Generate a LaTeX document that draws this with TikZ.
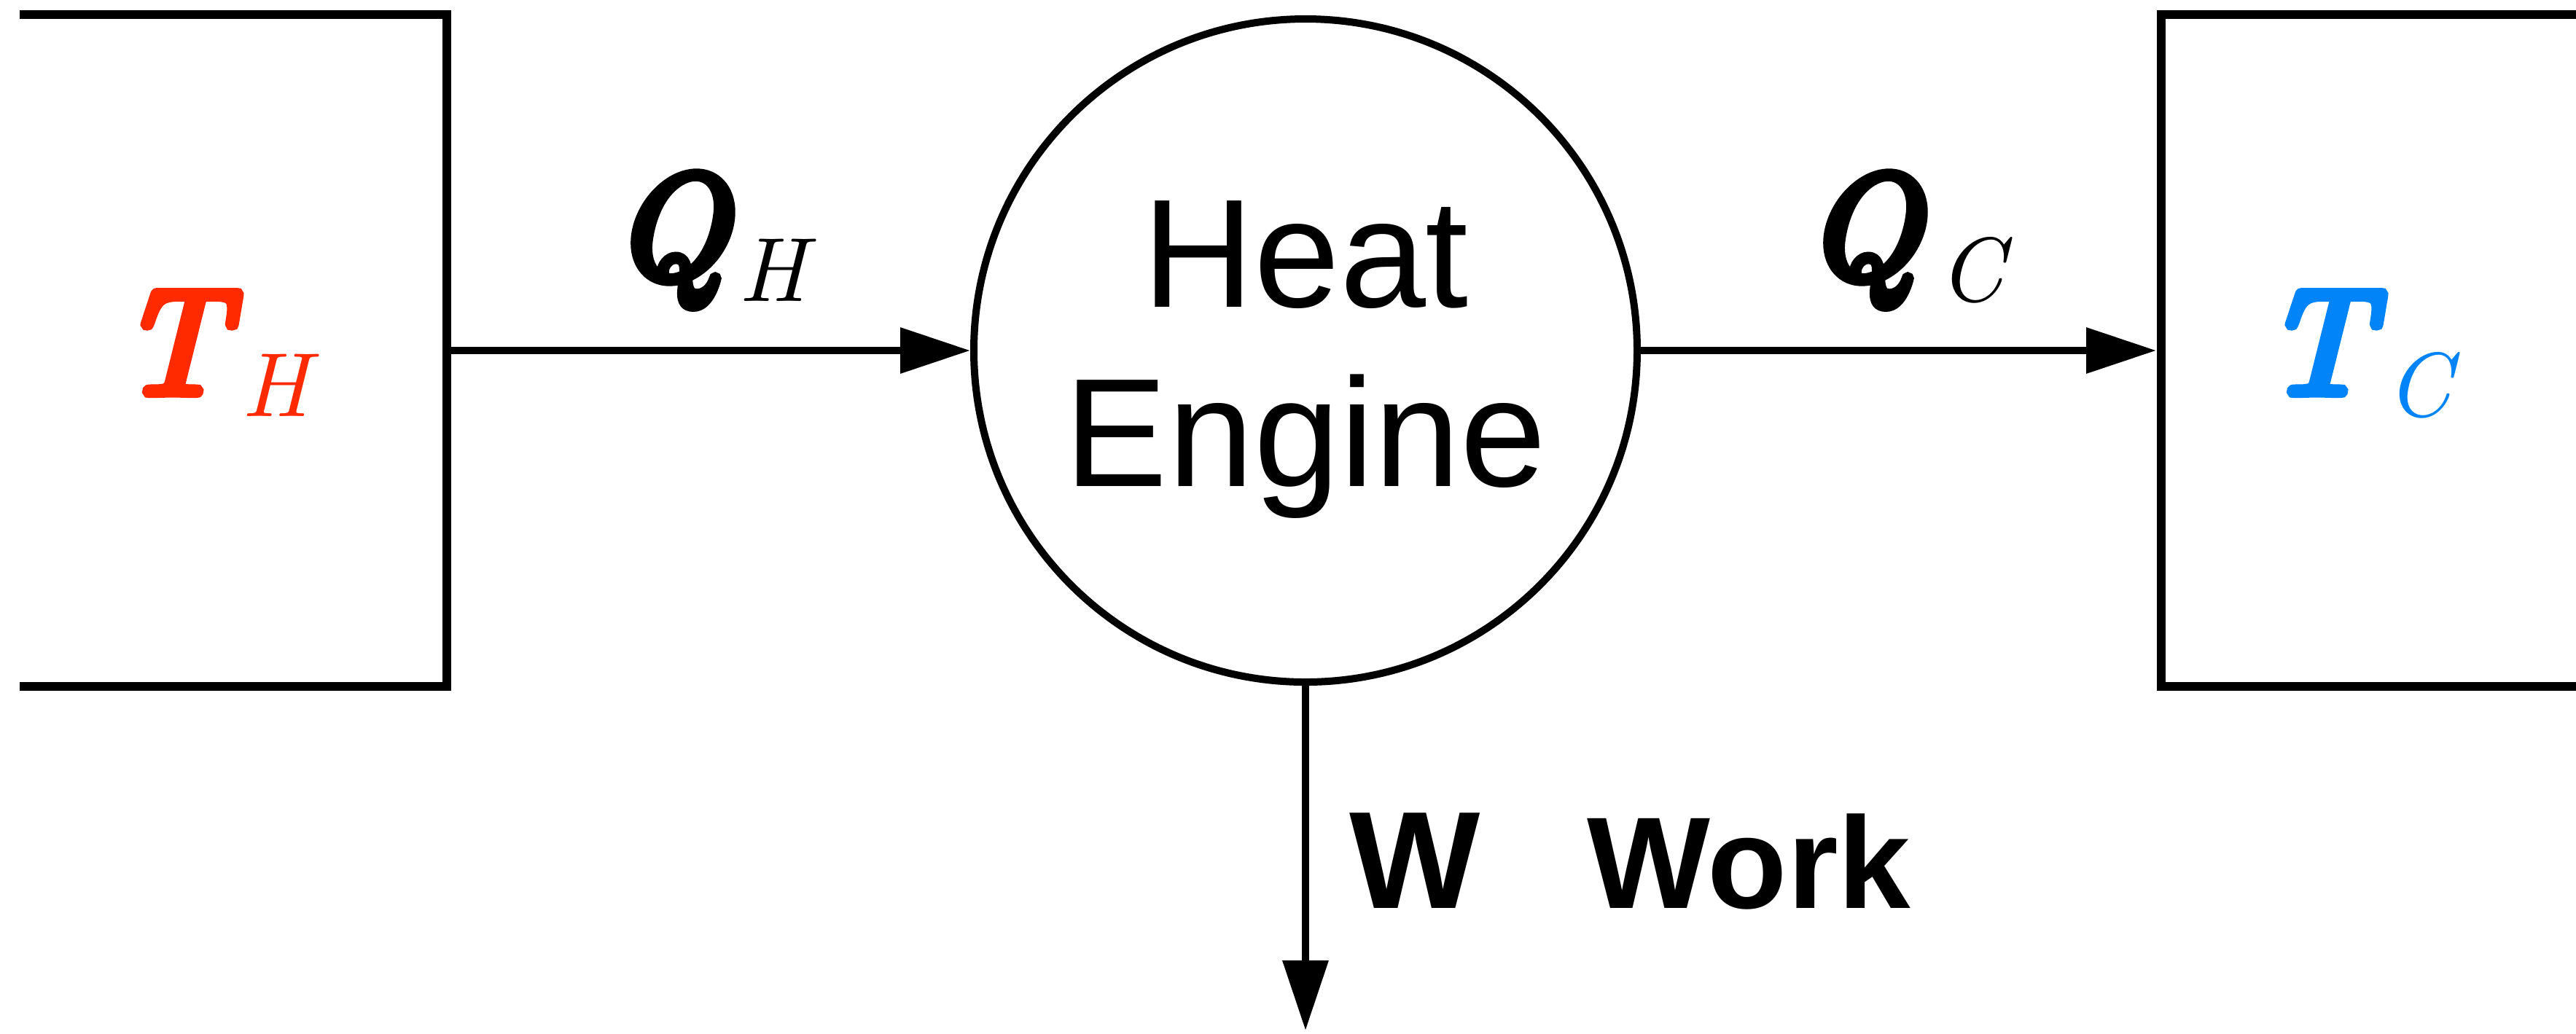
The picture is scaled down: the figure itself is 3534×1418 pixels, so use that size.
\documentclass[tikz,border=0pt]{standalone}
\usepackage{fontspec}
\setmainfont{Liberation Sans}
\newfontfamily\lmbi{lmroman10-italic.otf}[FakeBold=6]
\newfontfamily\lmit{lmroman10-italic.otf}
\usetikzlibrary{arrows.meta}
\newcommand\reslabel[3]{{\lmbi\fontsize{41}{41}\selectfont #1}\kern#3\raisebox{-6.2pt}{\lmit\fontsize{25}{25}\selectfont #2}}
\definecolor{hot}{RGB}{255,42,0}
\definecolor{cold}{RGB}{0,132,247}
\begin{document}
\begin{tikzpicture}[x=0.2pt,y=-0.2pt,
  wall/.style={line width=2.4pt},
  flow/.style={line width=2pt,-{Triangle[length=19.2pt,width=12.2pt]}},
  lbl/.style={inner sep=0pt, anchor=base west},
  engine/.style={circle, draw, line width=2pt, minimum size=182pt, inner sep=0pt}]
\useasboundingbox (0,0) rectangle (3534,1418);
% reservoirs
\draw[wall] (27,20) -- (613,20) -- (613,942) -- (27,942);
\draw[wall] (3534,20) -- (2965,20) -- (2965,942) -- (3534,942);
% engine
\node[engine] (engine) at (1791,481) {};
\node[inner sep=0pt, align=center, font=\fontsize{42.4}{49.2}\selectfont] (enginetext) at ([yshift=-2.6pt]engine.center) {Heat\\Engine};
% connector ends
\coordinate (hotwall) at (613,481);
\coordinate (coldwall) at (2958,481);
\coordinate (workend) at (1791,1414);
\draw[flow] (hotwall) -- (engine.west);
\draw[flow] (engine.east) -- (coldwall);
\draw[flow] (engine.south) -- (workend);
% labels
\node[lbl, text=hot] (th) at (162,540) {\reslabel{T}{H}{4.4pt}};
\node[lbl, text=cold] (tc) at (3104,540) {\reslabel{T}{C}{4.4pt}};
\node[lbl] (qh) at (840,382) {\reslabel{Q}{H}{3pt}};
\node[lbl] (qc) at (2476,382) {\reslabel{Q}{C}{5pt}};
\node[lbl, font=\fontsize{38}{38}\selectfont\bfseries] (w) at (1850,1246) {W};
\node[lbl, font=\fontsize{35.8}{36}\selectfont\bfseries] (work) at (2176,1246) {Work};
\end{tikzpicture}
\end{document}
